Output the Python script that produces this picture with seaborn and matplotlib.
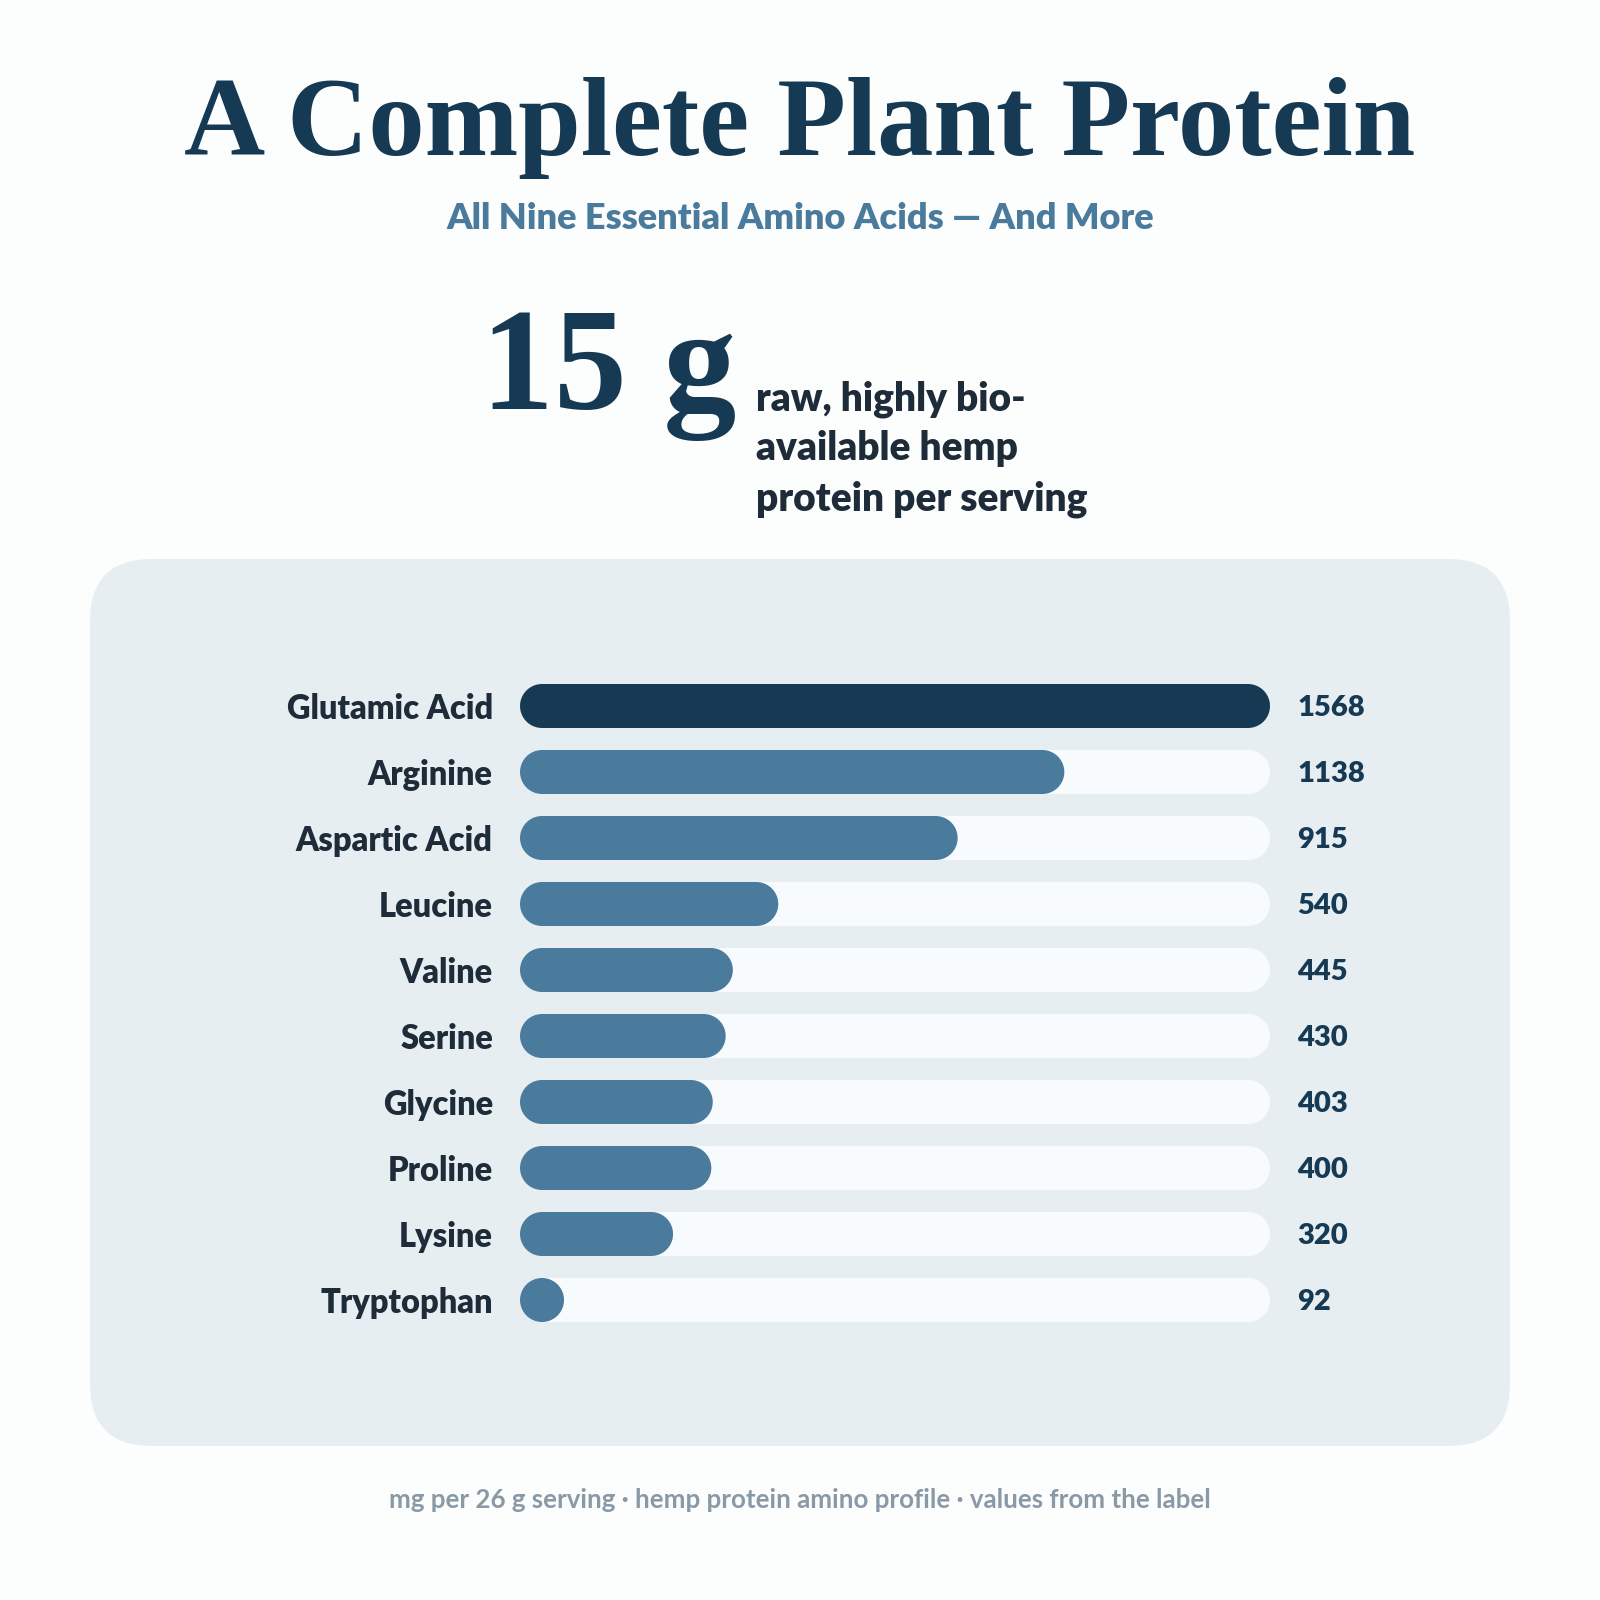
import matplotlib
matplotlib.use("Agg")
import numpy as np
import matplotlib.pyplot as plt
import seaborn as sns
from matplotlib.patches import FancyBboxPatch, Polygon
from matplotlib.transforms import IdentityTransform

# ---- data ----
amino_acids = ["Glutamic Acid", "Arginine", "Aspartic Acid", "Leucine", "Valine",
               "Serine", "Glycine", "Proline", "Lysine", "Tryptophan"]
mg_values = [1568, 1138, 915, 540, 445, 430, 403, 400, 320, 92]
value_labels = ["1568", "1138", "915", "540", "445", "430", "403", "400", "320", "92"]

title = "A Complete Plant Protein"
subtitle = "All Nine Essential Amino Acids \u2014 And More"
big_number = "15 g"
big_caption = ["raw, highly bio-", "available hemp", "protein per serving"]
footer = "mg per 26 g serving \u00b7 hemp protein amino profile \u00b7 values from the label"

# ---- style ----
BG = "#fcfdfd"
PANEL = "#e7eef2"
TRACK = "#f8fbfd"
NAVY = "#173a54"
STEEL = "#4a7a9c"
INK = "#1e2b38"
GRAY = "#8a99a6"
SANS = ["Lato", "DejaVu Sans"]
SERIF = ["Liberation Serif", "DejaVu Serif"]
HEAVY = "heavy"

sns.set_theme(style="white")
plt.rcParams["font.family"] = SANS

W = H = 1600
fig = plt.figure(figsize=(16, 16), dpi=100, facecolor=BG)


def fx(x):
    return x / W


def fy(y):
    return 1 - y / H


# panel
panel = FancyBboxPatch((90, H - 1446), 1420, 1446 - 559,
                       boxstyle="round,pad=0,rounding_size=62",
                       transform=IdentityTransform(), facecolor=PANEL,
                       edgecolor="none", zorder=0)
fig.add_artist(panel)

# texts
fig.text(fx(800), fy(155), title, ha="center", va="baseline", fontsize=81,
         fontweight="bold", color=NAVY, family=SERIF)
fig.text(fx(800), fy(229), subtitle, ha="center", va="baseline", fontsize=26,
         fontweight=HEAVY, color=STEEL)
fig.text(fx(481), fy(409), big_number, ha="left", va="baseline", fontsize=105,
         fontweight="bold", color=NAVY, family=SERIF)
for i, line in enumerate(big_caption):
    fig.text(fx(756), fy(410 + 50 * i), line, ha="left", va="baseline",
             fontsize=28, fontweight=HEAVY, color=INK)
fig.text(fx(800), fy(1508), footer, ha="center", va="baseline", fontsize=18.6,
         fontweight="bold", color=GRAY)

# bar axes
row_h = 66
top = 706 - row_h / 2
ax = fig.add_axes([fx(520), fy(top + 10 * row_h), 750 / W, 10 * row_h / H])
ax.set_facecolor("none")

sns.barplot(x=[max(mg_values)] * len(amino_acids), y=amino_acids, orient="h",
            color=TRACK, width=44 / row_h, ax=ax, saturation=1)
n_track = len(ax.patches)
palette = [NAVY] + [STEEL] * (len(amino_acids) - 1)
sns.barplot(x=mg_values, y=amino_acids, hue=amino_acids, palette=palette,
            orient="h", width=44 / row_h, ax=ax, saturation=1, legend=False)

ax.set_xlim(0, max(mg_values))
ax.set_ylim(len(amino_acids) - 0.5, -0.5)
ax.set_xlabel("")
ax.set_ylabel("")
ax.set_xticks([])
sns.despine(ax=ax, left=True, bottom=True)
ax.tick_params(axis="y", length=0, pad=19.5)
for lab in ax.get_yticklabels():
    lab.set_fontweight(HEAVY)
    lab.set_fontsize(23.5)
    lab.set_color(INK)
    lab.set_verticalalignment("center_baseline")

for i, v in enumerate(value_labels):
    ax.annotate(v, xy=(max(mg_values), i), xytext=(19.5, 0),
                textcoords="offset points", ha="left", va="center_baseline",
                fontsize=21, fontweight=HEAVY, color=NAVY)


def capsule(x0, y0, w, h, n=40):
    r = h / 2
    w = max(w, h)
    t1 = np.linspace(-np.pi / 2, np.pi / 2, n)
    right = np.column_stack([x0 + w - r + r * np.cos(t1), y0 + r + r * np.sin(t1)])
    t2 = np.linspace(np.pi / 2, 3 * np.pi / 2, n)
    left = np.column_stack([x0 + r + r * np.cos(t2), y0 + r + r * np.sin(t2)])
    return np.vstack([right, left])


# replace bars with rounded ones
fig.canvas.draw()
patches = list(ax.patches)
for k, p in enumerate(patches):
    bb = p.get_window_extent()
    verts = capsule(bb.x0, bb.y0, bb.width, bb.height)
    rp = Polygon(verts, closed=True, transform=IdentityTransform(),
                 facecolor=p.get_facecolor(), edgecolor="none",
                 zorder=2 if k < n_track else 3)
    fig.add_artist(rp)
    p.set_visible(False)

fig.savefig("out.png", dpi=100, facecolor=BG)
